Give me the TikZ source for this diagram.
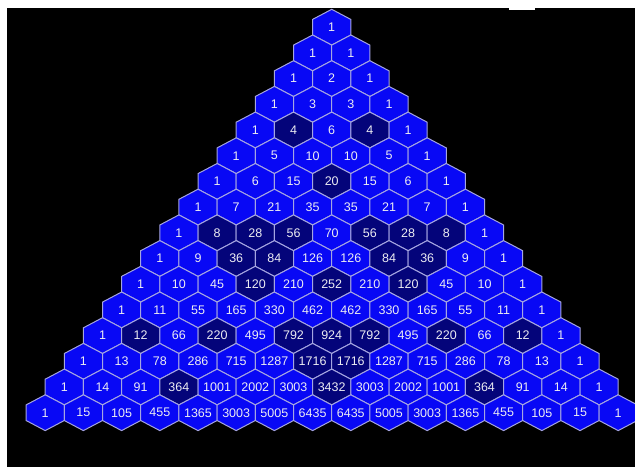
\documentclass[tikz,border=0pt]{standalone}
\usepackage{fontspec}
\setmainfont{Liberation Sans}
\definecolor{cellblue}{RGB}{8,8,245}
\definecolor{celldark}{RGB}{4,4,122}
\definecolor{cellline}{RGB}{165,165,225}
\definecolor{numgray}{RGB}{236,236,242}

\begin{document}
\begin{tikzpicture}[
  x=1pt, y=-1pt,
  cell/.style={draw=cellline, line width=1pt, fill=cellblue, line join=miter},
  deep/.style={fill=celldark},
  num/.style={text=numgray, inner sep=0pt, font=\fontsize{12.5}{12.5}\selectfont}
]
\useasboundingbox (0,0) rectangle (635,467);
\fill[white] (0,0) rectangle (635,467);
\fill[black] (7,8) rectangle (635,467);
\fill[white] (509,8) rectangle (535,10);
% rows of the triangle, value carried from cell to cell
\foreach \n in {0,...,15}{
  \xdef\pascalval{1}
  \foreach \k in {0,...,\n}{
    \ifnum\k>0 \xdef\pascalval{\the\numexpr\pascalval*(\n-\k+1)/\k\relax}\fi
    \ifnum\numexpr(\pascalval/4)*4\relax=\pascalval
      \def\celltype{deep}\else\def\celltype{}\fi
    \pgfmathsetmacro\cx{331.7+(2*\k-\n)*19.1}
    \pgfmathsetmacro\cy{27.2+25.7*\n}
    \path[cell, \celltype] (\cx,\cy) ++(0,-17.9) -- ++(19.1,10.1) -- ++(0,15.6)
      -- ++(-19.1,10.1) -- ++(-19.1,-10.1) -- ++(0,-15.6) -- cycle;
    \node[num] (c\n-\k) at (\cx,\cy) {\pascalval};
  }
}
\end{tikzpicture}
\end{document}
